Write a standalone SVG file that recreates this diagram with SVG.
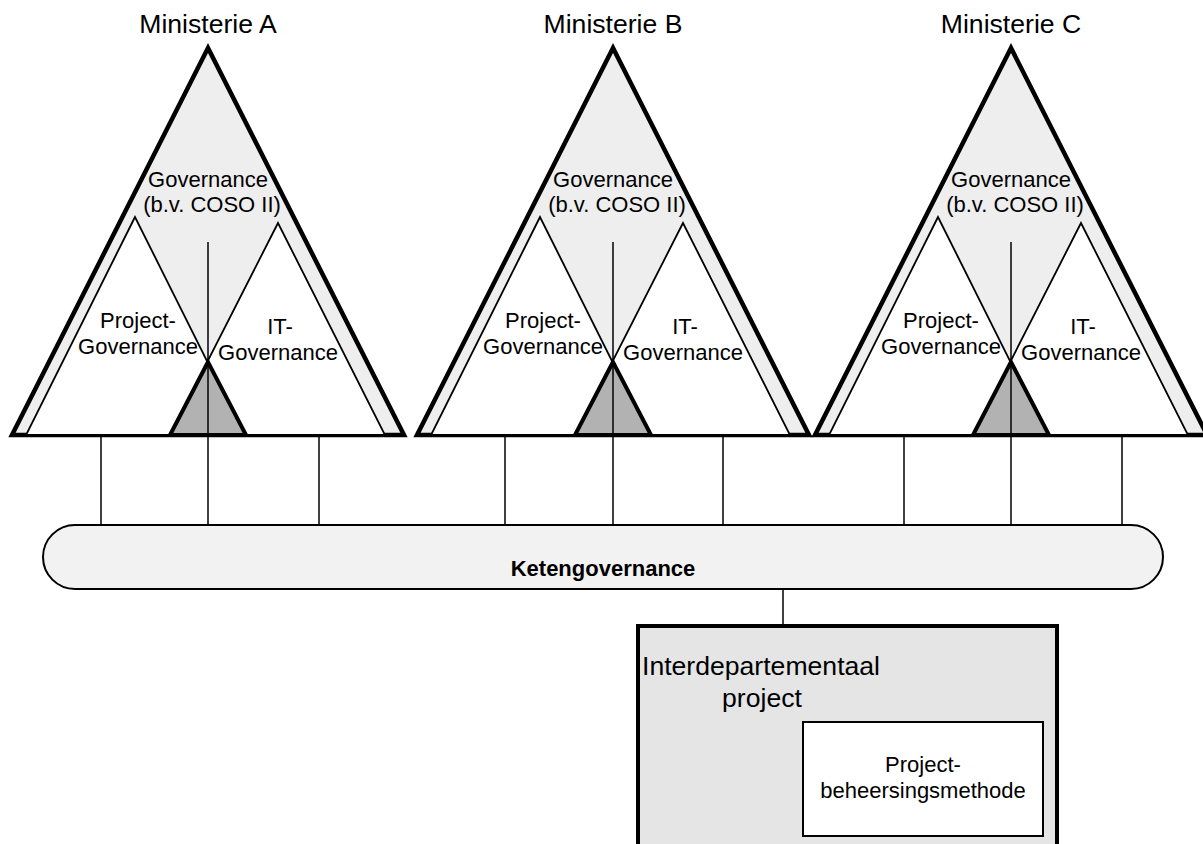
<svg xmlns="http://www.w3.org/2000/svg" width="1203" height="844" viewBox="0 0 1203 844">
<defs>
<style>
.outer{fill:#eeeeee;stroke:#000;stroke-width:4.5;stroke-linejoin:miter}
.inner{fill:#fff;stroke:#000;stroke-width:1.8}
.core{fill:#b2b2b2;stroke:#000;stroke-width:4}
.ln{stroke:#000;stroke-width:1.5;fill:none}
.t{font-family:"Liberation Sans",Arial,sans-serif;font-size:22px;fill:#000;text-anchor:middle}
.title{font-family:"Liberation Sans",Arial,sans-serif;font-size:26.6px;fill:#000;text-anchor:middle}
.b{font-weight:bold}
</style>
<g id="ministry">
<polygon class="outer" points="0,48 -196,435 196,435"/>
<polygon class="inner" points="-73,217 -182,435 36,435"/>
<polygon class="inner" points="70,223 -38,435 177,435"/>
<polygon class="core" points="0,362 -38,435 38,435"/>
<line class="ln" x1="0" y1="242" x2="0" y2="435"/>
<text class="t" x="0" y="187">Governance</text>
<text class="t" x="4" y="212">(b.v. COSO II)</text>
<text class="t" x="-70" y="328">Project-</text>
<text class="t" x="-70" y="354">Governance</text>
<text class="t" x="72" y="334">IT-</text>
<text class="t" x="70" y="360">Governance</text>
</g>
</defs>
<rect width="1203" height="844" fill="#fff"/>

<g id="ministerie-a">
<use href="#ministry" transform="translate(208,0)"/>
<text class="title" x="208" y="33">Ministerie A</text>
</g>
<g id="ministerie-b">
<use href="#ministry" transform="translate(613,0)"/>
<text class="title" x="613" y="33">Ministerie B</text>
</g>
<g id="ministerie-c">
<use href="#ministry" transform="translate(1011,0)"/>
<text class="title" x="1011" y="33">Ministerie C</text>
</g>

<g id="connectors">
<line class="ln" x1="101" y1="435" x2="101" y2="525"/>
<line class="ln" x1="208" y1="435" x2="208" y2="525"/>
<line class="ln" x1="319" y1="435" x2="319" y2="525"/>
<line class="ln" x1="505" y1="435" x2="505" y2="525"/>
<line class="ln" x1="613" y1="435" x2="613" y2="525"/>
<line class="ln" x1="723" y1="435" x2="723" y2="525"/>
<line class="ln" x1="904" y1="435" x2="904" y2="525"/>
<line class="ln" x1="1011" y1="435" x2="1011" y2="525"/>
<line class="ln" x1="1122" y1="435" x2="1122" y2="525"/>
<line class="ln" x1="783" y1="589" x2="783" y2="626"/>
</g>

<g id="ketengovernance">
<rect x="43" y="525" width="1120" height="64" rx="32" ry="32" fill="#f2f2f2" stroke="#000" stroke-width="2"/>
<text class="t b" x="603" y="576">Ketengovernance</text>
</g>

<g id="interdepartementaal-project">
<rect x="638" y="626" width="419" height="260" fill="#e5e5e5" stroke="#000" stroke-width="4"/>
<text class="title" x="642" y="675" style="text-anchor:start">Interdepartementaal</text>
<text class="title" x="762" y="707">project</text>
</g>

<g id="projectbeheersingsmethode">
<rect x="803" y="722" width="240" height="114" fill="#fff" stroke="#000" stroke-width="2"/>
<text class="t" x="923" y="772">Project-</text>
<text class="t" x="923" y="798">beheersingsmethode</text>
</g>
</svg>
